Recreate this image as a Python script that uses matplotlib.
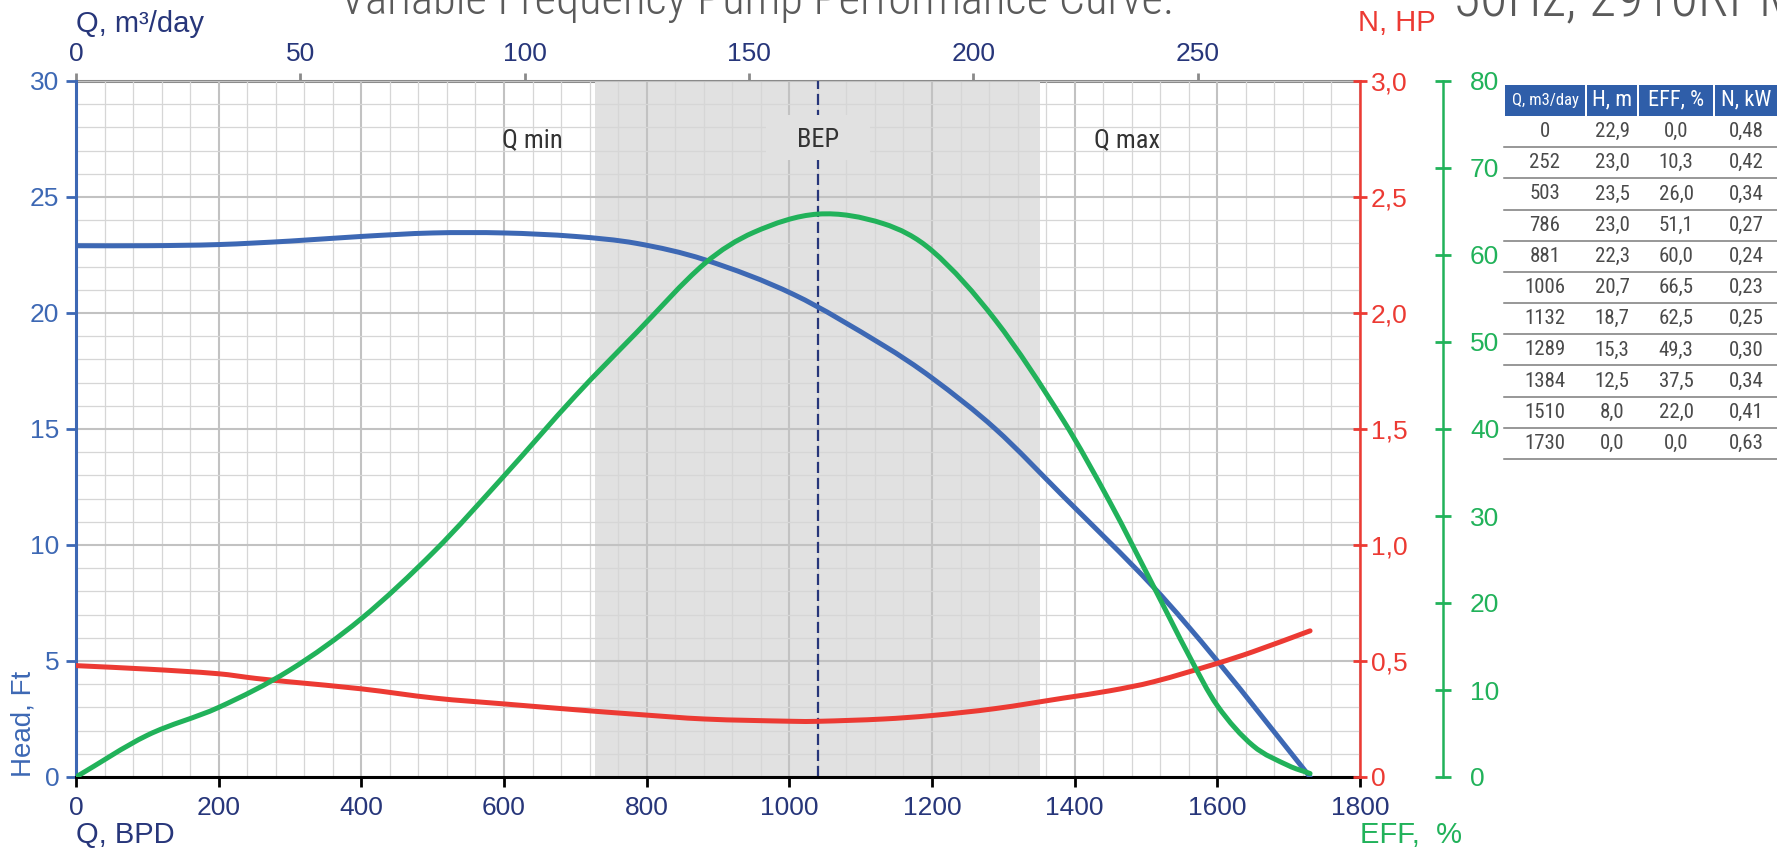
import matplotlib
matplotlib.use('Agg')
import matplotlib.pyplot as plt
from matplotlib.patches import Rectangle, PathPatch
from matplotlib.lines import Line2D
from matplotlib.path import Path
from matplotlib.ticker import MultipleLocator

# Curves, flow in BPD
head_q = [0, 100, 200, 300, 400, 500, 600, 700, 786, 881, 1006, 1132, 1200, 1289, 1384, 1510, 1600, 1730]
head_ft = [22.9, 22.9, 22.95, 23.1, 23.3, 23.45, 23.45, 23.3, 23.0, 22.3, 20.8, 18.6, 17.2, 15.0, 12.1, 8.2, 5.0, 0.0]

eff_q = [0, 100, 200, 300, 400, 503, 600, 700, 786, 881, 950, 1040, 1132, 1200, 1289, 1384, 1450,
         1510, 1560, 1600, 1650, 1700, 1730]
eff_pct = [0.0, 4.8, 8.0, 12.3, 18.2, 26.0, 34.6, 43.8, 51.1, 59.0, 62.6, 64.7, 63.6, 60.5, 52.5, 41.0,
           31.5, 22.0, 14.0, 8.2, 3.6, 1.3, 0.4]

power_q = [0, 100, 200, 252, 300, 400, 503, 600, 700, 786, 881, 1006, 1040, 1132, 1200, 1289, 1384,
           1450, 1510, 1600, 1650, 1730]
power_hp = [0.48, 0.465, 0.445, 0.425, 0.41, 0.38, 0.34, 0.315, 0.29, 0.27, 0.25, 0.24, 0.24, 0.25,
            0.265, 0.295, 0.34, 0.372, 0.41, 0.49, 0.54, 0.63]

# operating window and best efficiency point (BPD)
q_min_bpd = 728
q_max_bpd = 1352
bep_bpd = 1040

# axis ticks
bpd_ticks = [0, 200, 400, 600, 800, 1000, 1200, 1400, 1600, 1800]
m3_ticks = [0, 50, 100, 150, 200, 250]
head_ticks = [0, 5, 10, 15, 20, 25, 30]
hp_ticks = [0, 0.5, 1.0, 1.5, 2.0, 2.5, 3.0]
hp_tick_labels = ['0', '0,5', '1,0', '1,5', '2,0', '2,5', '3,0']
eff_ticks = [0, 10, 20, 30, 40, 50, 60, 70, 80]

# data table on the right
table_cols = ['Q, m3/day', 'H, m', 'EFF, %', 'N, kW']
table_q = [0, 252, 503, 786, 881, 1006, 1132, 1289, 1384, 1510, 1730]
table_h = [22.9, 23.0, 23.5, 23.0, 22.3, 20.7, 18.7, 15.3, 12.5, 8.0, 0.0]
table_eff = [0.0, 10.3, 26.0, 51.1, 60.0, 66.5, 62.5, 49.3, 37.5, 22.0, 0.0]
table_n = [0.48, 0.42, 0.34, 0.27, 0.24, 0.23, 0.25, 0.30, 0.34, 0.41, 0.63]

BPD_TO_M3 = 0.158987

BLUE = '#3d68b4'
NAVY = '#27367a'
RED = '#ec3a33'
GREEN = '#21b25a'
SHADE = '#e1e1e1'
HEADER = '#2f5ea9'
TXT = '#4a4a4a'

plt.rcParams['font.family'] = ['Liberation Sans', 'DejaVu Sans']
NARROW = ['Roboto Condensed', 'Roboto', 'DejaVu Sans']

W, H = 1777, 850


def fx(px):
    return px / W


def fy(py):
    return 1 - py / H


def smooth_curve(a, xs, ys, **kw):
    # draw the read points as a smooth line (cubic Hermite, like a spreadsheet "smoothed line")
    n = len(xs)
    m = []
    for i in range(n):
        i0, i1 = max(i - 1, 0), min(i + 1, n - 1)
        m.append((ys[i1] - ys[i0]) / (xs[i1] - xs[i0]))
    verts = [(xs[0], ys[0])]
    codes = [Path.MOVETO]
    for i in range(n - 1):
        dx = xs[i + 1] - xs[i]
        verts += [(xs[i] + dx / 3, ys[i] + m[i] * dx / 3),
                  (xs[i + 1] - dx / 3, ys[i + 1] - m[i + 1] * dx / 3),
                  (xs[i + 1], ys[i + 1])]
        codes += [Path.CURVE4] * 3
    a.add_patch(PathPatch(Path(verts, codes), fill=False, capstyle='round', joinstyle='round', **kw))


fig = plt.figure(figsize=(W / 100, H / 100), dpi=100)
ax = fig.add_axes([fx(76), fy(777), (1360 - 76) / W, (777 - 81) / H])

ax.set_xlim(0, 1800)
ax.set_ylim(0, 30)
ax.axvspan(q_min_bpd, q_max_bpd, color=SHADE, lw=0, zorder=0.2)

ax.set_axisbelow(True)
ax.xaxis.set_minor_locator(MultipleLocator(40))
ax.yaxis.set_minor_locator(MultipleLocator(1))
ax.grid(which='major', color='#c2c2c2', lw=1.5)
ax.grid(which='minor', color='#d6d6d6', lw=0.9)
ax.tick_params(which='minor', length=0)

ax.set_xticks(bpd_ticks)
ax.set_yticks(head_ticks)
ax.tick_params(axis='x', which='major', color='black', labelcolor=NAVY, direction='out',
               length=7, width=2, labelsize=19, pad=7)
ax.tick_params(axis='y', which='major', colors=BLUE, direction='out',
               length=7, width=2, labelsize=19, pad=5)
ax.spines['left'].set_color(BLUE)
ax.spines['left'].set_linewidth(2.2)
ax.spines['bottom'].set_color('black')
ax.spines['bottom'].set_linewidth(2.2)
ax.spines['top'].set_visible(False)
ax.spines['right'].set_visible(False)

sec = ax.secondary_xaxis('top', functions=(lambda x: x * BPD_TO_M3, lambda x: x / BPD_TO_M3))
sec.set_xticks(m3_ticks)
sec.spines['top'].set_color('#8a8a8a')
sec.spines['top'].set_linewidth(2.2)
sec.tick_params(color='#8a8a8a', labelcolor=NAVY, length=6, width=2, labelsize=19, pad=5)

# BEP marker
ax.axvline(bep_bpd, color=NAVY, lw=1.6, ls=(0, (5, 2.2)), zorder=1.5)
ax.add_patch(Rectangle((bep_bpd - 73, 27.56 - 0.97), 146, 1.94, fc=SHADE, ec='none', zorder=1.6))
ax.text(bep_bpd, 27.45, 'BEP', ha='center', va='center', fontsize=19, color='#333333',
        family=NARROW, zorder=1.7)
ax.text(640, 27.45, 'Q min', ha='center', va='center', fontsize=19, color='#333333', family=NARROW)
ax.text(1473, 27.45, 'Q max', ha='center', va='center', fontsize=19, color='#333333', family=NARROW)

smooth_curve(ax, head_q, head_ft, color=BLUE, lw=3.6, zorder=3)

# power axis
ax_n = ax.twinx()
ax_n.set_ylim(0, 3)
ax_n.set_yticks(hp_ticks)
ax_n.set_yticklabels(hp_tick_labels)
for s in ['left', 'top', 'bottom']:
    ax_n.spines[s].set_visible(False)
ax_n.spines['right'].set_color(RED)
ax_n.spines['right'].set_linewidth(1.8)
ax_n.tick_params(axis='y', colors=RED, direction='inout', length=10, width=2, labelsize=19, pad=3)
smooth_curve(ax_n, power_q, power_hp, color=RED, lw=3.6)

# efficiency axis
ax_e = ax.twinx()
ax_e.set_ylim(0, 80)
ax_e.set_yticks(eff_ticks)
for s in ['left', 'top', 'bottom']:
    ax_e.spines[s].set_visible(False)
ax_e.spines['right'].set_position(('axes', (1443 - 76) / (1360 - 76)))
ax_e.spines['right'].set_color(GREEN)
ax_e.spines['right'].set_linewidth(1.8)
ax_e.tick_params(axis='y', colors=GREEN, direction='inout', length=11, width=2, labelsize=19, pad=14)
smooth_curve(ax_e, eff_q, eff_pct, color=GREEN, lw=3.6)

# axis titles
fig.text(fx(76), fy(835), 'Q, BPD', color=NAVY, fontsize=21, ha='left', va='center')
fig.text(fx(1360), fy(835), 'EFF,  %', color=GREEN, fontsize=21, ha='left', va='center')
fig.text(fx(76), fy(24), 'Q, m³/day', color=NAVY, fontsize=21, ha='left', va='center')
fig.text(fx(1358), fy(23), 'N, HP', color=RED, fontsize=21, ha='left', va='center')
fig.text(fx(23), fy(777), 'Head, Ft', color=BLUE, fontsize=20, rotation=90, ha='center', va='bottom')

# title, mostly cut off at the top edge
title = fig.text(fx(340), fy(14), 'Variable Frequency Pump Performance Curve.', fontsize=30,
                 color='#5a5a5a', family=NARROW, fontweight='light', ha='left', va='baseline')
subtitle = fig.text(fx(1453), fy(16), '50Hz, 2910RPM', fontsize=30, color='#5a5a5a', family=NARROW,
                    fontweight='light', ha='left', va='baseline')
renderer = fig.canvas.get_renderer()
scale = 833 / title.get_window_extent(renderer).width
title.set_fontsize(30 * scale)
subtitle.set_fontsize(36 * scale)

# table
col_edges = [1504, 1586, 1638, 1714, 1778]
for i, name in enumerate(table_cols):
    x0, x1 = col_edges[i], col_edges[i + 1]
    fig.add_artist(Rectangle((fx(x0 + 1), fy(116)), (x1 - x0 - 2) / W, 31 / H,
                             transform=fig.transFigure, fc=HEADER, ec='none'))
    fig.text(fx((x0 + x1) / 2), fy(100), name, color='white', family=NARROW,
             fontsize=12 if i == 0 else 16, ha='center', va='center')


def comma(v, nd):
    return f'{v:.{nd}f}'.replace('.', ',')


for r in range(len(table_q)):
    yc = 131.5 + 31.2 * r
    row = [str(table_q[r]), comma(table_h[r], 1), comma(table_eff[r], 1), comma(table_n[r], 2)]
    for i, s in enumerate(row):
        fig.text(fx((col_edges[i] + col_edges[i + 1]) / 2), fy(yc), s, color=TXT, family=NARROW,
                 fontsize=15, ha='center', va='center')
    yl = yc + 15.6
    fig.add_artist(Line2D([fx(1504), fx(1778)], [fy(yl), fy(yl)], transform=fig.transFigure,
                          color='#7a7a7a', lw=1.1))

fig.savefig('out.png', dpi=100)
